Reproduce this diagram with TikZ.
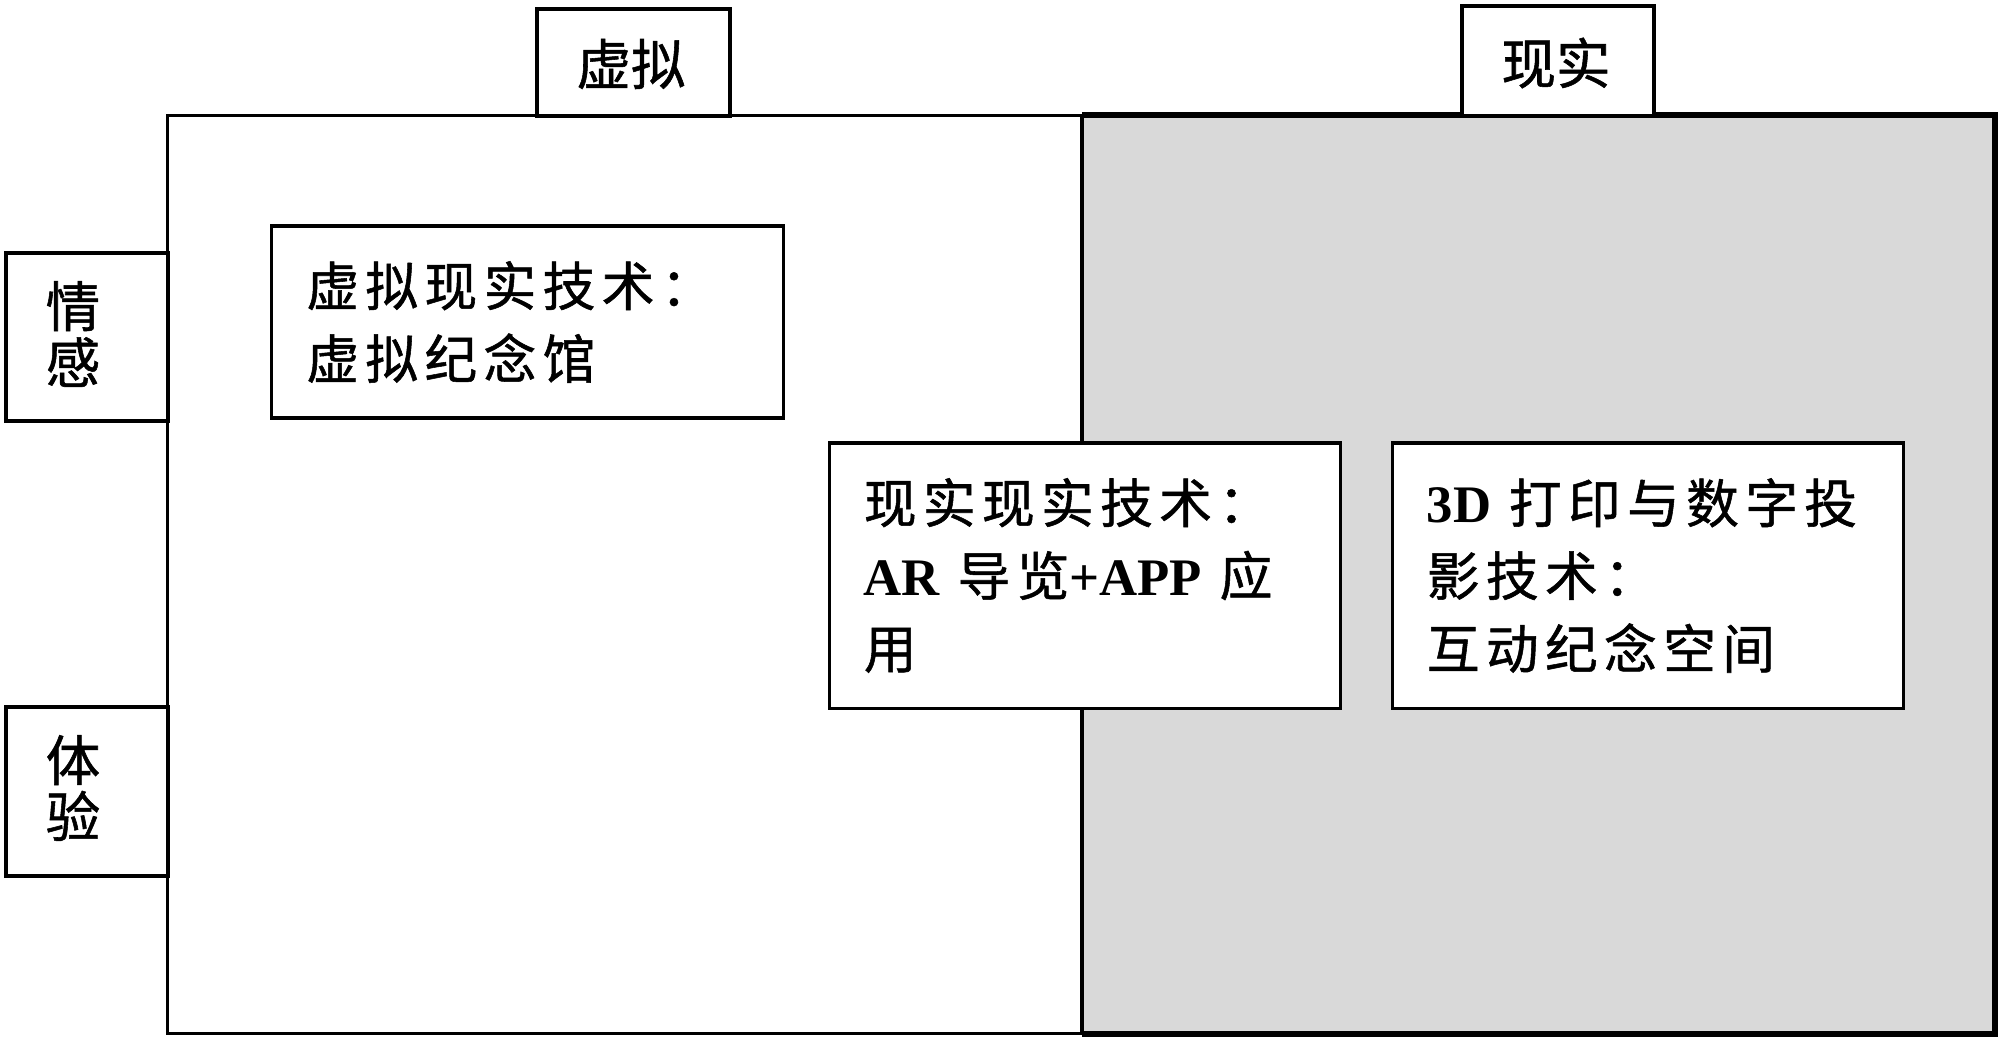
\documentclass[tikz,border=0pt]{standalone}
\usepackage{fontspec}
\setmainfont{Liberation Serif}
\newfontfamily\cjk{Noto Sans CJK SC}[LetterSpace=12,FakeBold=1]
\newfontfamily\cjktab{Noto Sans CJK SC}[FakeBold=1]
\newfontfamily\latf{Liberation Serif}
\newcommand{\lt}[1]{{\latf\bfseries #1}}
\begin{document}
\begin{tikzpicture}[x=0.01cm,y=-0.01cm,
  frame/.style={draw=black,line width=0.9pt},
  tab/.style={frame,fill=white,inner sep=0pt},
  tabtext/.style={inner sep=0pt,align=center,font=\cjktab\fontsize{15.5pt}{16pt}\selectfont},
  techbox/.style={frame,fill=white,inner sep=0pt,minimum width=5.11cm,minimum height=2.65cm,text width=4.42cm,align=left,font=\cjk\fontsize{15pt}{20.7pt}\selectfont}]
\useasboundingbox (0,0) rectangle (2000,1045);
% main frame
\node[frame,fill=white,minimum width=18.26cm,minimum height=9.17cm,inner sep=0pt] (main) at (1081,574.5) {};
% real (grey) half
\node[fill={rgb,255:red,217;green,217;blue,217},minimum width=9.11cm,minimum height=9.17cm,inner sep=0pt] (grey) at (1538.5,574.5) {};
\draw[line width=0.9pt] (grey.north west) -- (grey.south west);
\draw[line width=1.5pt] (grey.north west) -- (grey.north east) -- (grey.south east) -- (grey.south west);
% tabs
\node[tab,minimum width=1.93cm,minimum height=1.07cm] (virt) at (633.5,62.5) {};
\node[tabtext] (virtT) at (631,64) {虚拟};
\node[tab,minimum width=1.92cm,minimum height=1.10cm] (real) at (1558,61) {};
\node[tabtext] (realT) at (1556,63) {现实};
\node[tab,minimum width=1.62cm,minimum height=1.68cm] (emo) at (87,337) {};
\node[tabtext] (emoT) at (73,334) {情\\感};
\node[tab,minimum width=1.62cm,minimum height=1.69cm] (exp) at (87,791.5) {};
\node[tabtext] (expT) at (73,788) {体\\验};
% technology boxes
\node[techbox,minimum height=1.92cm] (vr) at (527.5,322) {虚拟现实技术：\\虚拟纪念馆};
\node[techbox] (ar) at (1085,575.5) {现实现实技术：\\\lt{AR} 导览\lt{+APP} 应\\用};
\node[techbox] (pr) at (1648,575.5) {\lt{3D} 打印与数字投\\影技术：\\互动纪念空间};
\end{tikzpicture}
\end{document}
